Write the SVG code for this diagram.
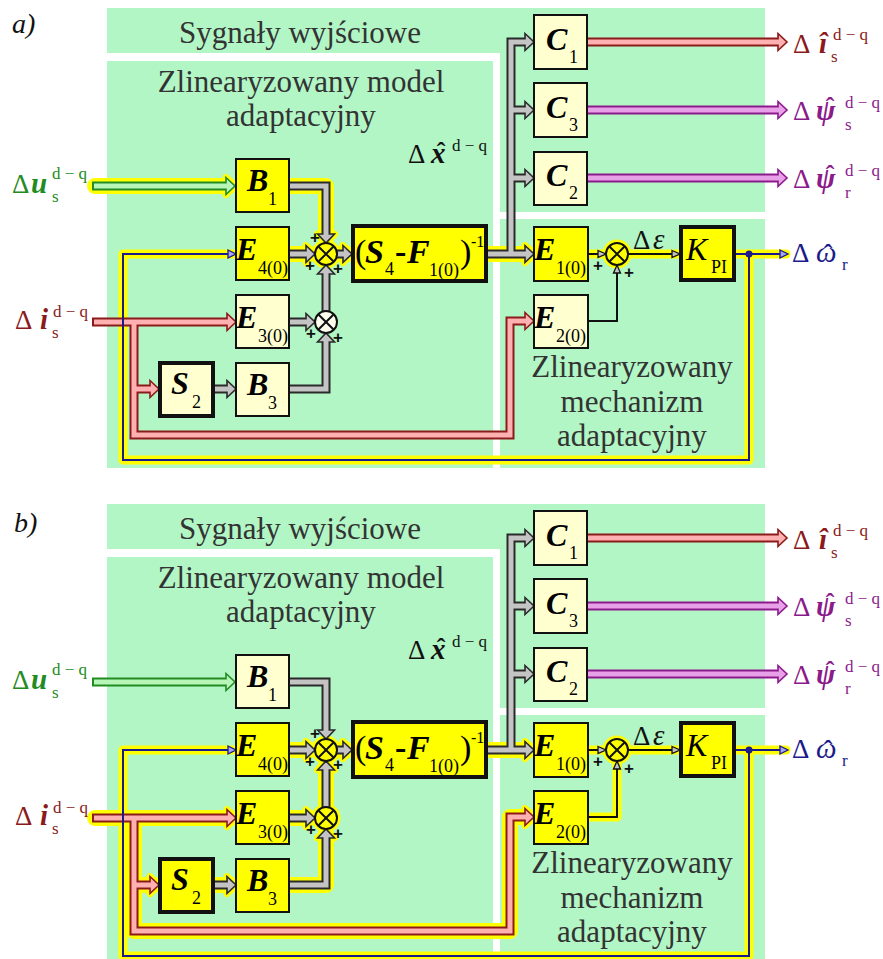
<svg xmlns="http://www.w3.org/2000/svg" width="883" height="959" viewBox="0 0 883 959">
<style>
.bg{fill:#b2f6c6}
.ttl{font-family:"Liberation Serif",serif;font-size:31px;fill:#333;text-anchor:middle}
.lab{font-family:"Liberation Serif",serif;font-size:28px;font-style:italic;fill:#111}
.m{font-family:"Liberation Serif",serif}
.bi{font-weight:bold;font-style:italic}
.big{font-size:32px}
.sub{font-size:18px}
.hat{font-family:"Liberation Serif",serif;font-size:26px;text-anchor:middle;font-weight:bold}
.glow{fill:none;stroke:#ffff00;stroke-width:16;stroke-linecap:round;stroke-linejoin:round}
.glowt{fill:none;stroke:#ffff00;stroke-width:9;stroke-linecap:round;stroke-linejoin:round}
.glowh{fill:#ffff00;stroke:#ffff00;stroke-width:7;stroke-linejoin:round}
.glowc{fill:#ffff00}
.o{fill:none;stroke-width:9;stroke-linejoin:miter}
.i{fill:none;stroke-width:5;stroke-linejoin:miter}
.h{stroke-width:1.6;stroke-linejoin:miter}
.gray .o,.gray .h{stroke:#2a2a2a}.gray .i{stroke:#c4c4c4}.gray .h{fill:#c4c4c4}
.pink .o,.pink .h{stroke:#8b1a1a}.pink .i{stroke:#ffb0b0}.pink .h{fill:#ffb0b0}
.grn .o,.grn .h{stroke:#228b22}.grn .i{stroke:#b8f5b8}.grn .h{fill:#b8f5b8}
.pur .o,.pur .h{stroke:#8b1a8b}.pur .i{stroke:#e8a0e8}.pur .h{fill:#e8a0e8}
.nav{fill:none;stroke:#1a1a8b;stroke-width:2}
.navh{fill:#a8a8f0;stroke:#1a1a8b;stroke-width:1.3}
.blk{fill:none;stroke:#111;stroke-width:2}
.blkh{fill:#c4c4c4;stroke:#111;stroke-width:1.3}
.bx{stroke:#111;stroke-width:2}
.thk{stroke:#111;stroke-width:4}
.y{fill:#ffff00}
.c{fill:#ffffd0}
.sx{stroke:#111;stroke-width:2}
.plus{font-family:"Liberation Sans",sans-serif;font-weight:bold;font-size:17px;fill:#111;text-anchor:middle}
</style>
<rect width="883" height="959" fill="#fff"/>

<text class="lab" x="12" y="33">a)</text>
<text class="lab" x="14" y="532">b)</text>

<!-- ================= PANEL A ================= -->
<g id="panelA">
<g id="bgA">
<rect class="bg" x="107" y="8" width="658" height="45"/>
<rect class="bg" x="500" y="8" width="265" height="204"/>
<rect class="bg" x="107" y="61" width="386" height="407"/>
<rect class="bg" x="500" y="219" width="265" height="249"/>
<text class="ttl" x="300" y="43">Sygnały wyjściowe</text>
<text class="ttl" x="301" y="92">Zlinearyzowany model</text>
<text class="ttl" x="301" y="126">adaptacyjny</text>
<text class="ttl" x="632" y="377">Zlinearyzowany</text>
<text class="ttl" x="632" y="412">mechanizm</text>
<text class="ttl" x="632" y="446">adaptacyjny</text>
</g>

<g id="connectorsA">
<g id="glowA">
<path class="glow" d="M95,186 H229"/><polygon class="glowh" points="226,177.5 235,186 226,194.5"/>
<path class="glow" d="M289,186 H326 V238"/><polygon class="glowh" points="317.5,234 326,243 334.5,234"/>
<path class="glow" d="M288,254 H310"/><polygon class="glowh" points="306,245.5 315,254 306,262.5"/>
<path class="glow" d="M337,254 H347"/><polygon class="glowh" points="343,245.5 352,254 343,262.5"/>
<path class="glow" d="M487,254 H529"/><polygon class="glowh" points="525,245.5 534,254 525,262.5"/>
<path class="glowt" d="M735,254 H786"/>
<path class="glowt" d="M749,254 V460 H123 V254 H233"/>
<path class="glowt" d="M588,254 H680"/>
<circle class="glowc" cx="326" cy="254" r="14.5"/>
<circle class="glowc" cx="617" cy="254" r="14.5"/>
</g>
<g class="gray">
<path class="o" d="M289,186 H326 V234"/>
<path class="o" d="M288,254 H306"/>
<path class="o" d="M337,254 H343"/>
<path class="o" d="M288,322 H306"/>
<path class="o" d="M288,389 H326 V342"/>
<path class="o" d="M326,311 V274"/>
<path class="o" d="M213,389 H227"/>
<path class="o" d="M487,254 H525"/>
<path class="o" d="M511,254 V42 H525"/>
<path class="o" d="M511,110 H525"/>
<path class="o" d="M511,178 H525"/>
<polygon class="h" points="317.5,234 326,243 334.5,234"/>
<polygon class="h" points="306,245.5 315,254 306,262.5"/>
<polygon class="h" points="343,245.5 352,254 343,262.5"/>
<polygon class="h" points="306,313.5 315,322 306,330.5"/>
<polygon class="h" points="317.5,342 326,333 334.5,342"/>
<polygon class="h" points="317.5,274 326,265 334.5,274"/>
<polygon class="h" points="227,380.5 236,389 227,397.5"/>
<polygon class="h" points="525,245.5 534,254 525,262.5"/>
<polygon class="h" points="525,33.5 534,42 525,50.5"/>
<polygon class="h" points="525,101.5 534,110 525,118.5"/>
<polygon class="h" points="525,169.5 534,178 525,186.5"/>
<path class="i" d="M289,186 H326 V235.5"/>
<path class="i" d="M288,254 H307.5"/>
<path class="i" d="M337,254 H344.5"/>
<path class="i" d="M288,322 H307.5"/>
<path class="i" d="M288,389 H326 V340.5"/>
<path class="i" d="M326,311 V272.5"/>
<path class="i" d="M213,389 H228.5"/>
<path class="i" d="M487,254 H526.5"/>
<path class="i" d="M511,254 V42 H526.5"/>
<path class="i" d="M511,110 H526.5"/>
<path class="i" d="M511,178 H526.5"/>
</g>
<g class="pink">
<path class="o" d="M92,322 H227"/>
<path class="o" d="M134,322 V435 H510 V321 H525"/>
<path class="o" d="M134,389 H150"/>
<polygon class="h" points="227,313.5 236,322 227,330.5"/>
<polygon class="h" points="525,312.5 534,321 525,329.5"/>
<polygon class="h" points="150,380.5 159,389 150,397.5"/>
<path class="i" d="M94,322 H228.5"/>
<path class="i" d="M134,322 V435 H510 V321 H526.5"/>
<path class="i" d="M134,389 H151.5"/>
</g>
<g class="grn">
<path class="o" d="M92,186 H226"/>
<polygon class="h" points="226,177.5 235,186 226,194.5"/>
<path class="i" d="M94,186 H227.5"/>
</g>
<g class="pink">
<path class="o" d="M587,42 H778"/>
<polygon class="h" points="778,33.5 787,42 778,50.5"/>
<path class="i" d="M587,42 H779.5"/>
</g>
<g class="pur">
<path class="o" d="M587,110 H778"/>
<path class="o" d="M587,178 H778"/>
<polygon class="h" points="778,101.5 787,110 778,118.5"/>
<polygon class="h" points="778,169.5 787,178 778,186.5"/>
<path class="i" d="M587,110 H779.5"/>
<path class="i" d="M587,178 H779.5"/>
</g>
<path class="nav" d="M735,254 H781"/>
<path class="nav" d="M749,254 V460 H123 V254 H229"/>
<polygon class="navh" points="780,250 788,254 780,258"/>
<polygon class="navh" points="228,250 236,254 228,258"/>
<circle cx="749" cy="254" r="3.5" fill="#1a1a8b"/>
<path class="blk" d="M588,254 H599"/>
<path class="blk" d="M628,254 H673"/>
<path class="blk" d="M588,321 H617 V272"/>
<polygon class="blkh" points="598,250.5 606,254 598,257.5"/>
<polygon class="blkh" points="672,250.5 680,254 672,257.5"/>
<polygon class="blkh" points="613.5,273 617,265 620.5,273"/>
</g>

<g id="B1a"><rect class="bx y" x="236" y="159" width="53" height="53"/><text class="m bi big" x="247" y="191">B</text><text class="m sub" x="268" y="205">1</text></g>
<g id="E4a"><rect class="bx y" x="236" y="227" width="53" height="53"/><text class="m bi big" x="236" y="260">E</text><text class="m sub" x="258" y="274">4(0)</text></g>
<g id="E3a"><rect class="bx c" x="236" y="295" width="53" height="53"/><text class="m bi big" x="236" y="328">E</text><text class="m sub" x="258" y="342">3(0)</text></g>
<g id="B3a"><rect class="bx c" x="236" y="363" width="53" height="53"/><text class="m bi big" x="247" y="395">B</text><text class="m sub" x="268" y="409">3</text></g>
<g id="S2a"><rect class="thk c" x="160" y="363" width="53" height="53"/><text class="m bi big" x="171" y="394">S</text><text class="m sub" x="192" y="408">2</text></g>
<g id="sum1a"><circle class="sx y" cx="326" cy="254" r="11"/><path class="sx" d="M318.2,246.2 L333.8,261.8 M333.8,246.2 L318.2,261.8"/>
<text class="plus" x="315" y="243">+</text><text class="plus" x="310" y="271">+</text><text class="plus" x="338" y="274">+</text></g>
<g id="sum2a"><circle class="sx" fill="#fffff0" cx="326" cy="322" r="11"/><path class="sx" d="M318.2,314.2 L333.8,329.8 M333.8,314.2 L318.2,329.8"/>
<text class="plus" x="311" y="339">+</text><text class="plus" x="338" y="343">+</text></g>
<g id="Blocka"><rect class="thk y" x="353" y="226" width="133" height="55"/>
<text class="m" font-size="34" x="355" y="263">(</text><text class="m bi" font-size="34" x="365" y="263">S</text><text class="m" font-size="18" x="385" y="275">4</text><text class="m" font-weight="bold" font-size="34" x="395" y="263">-</text><text class="m bi" font-size="34" x="407" y="263">F</text><text class="m" font-size="18" x="429" y="276">1(0)</text><text class="m" font-size="34" x="460" y="263">)</text><text class="m" font-size="16" x="471" y="247">-1</text></g>
<g id="C1a"><rect class="bx c" x="534" y="15" width="53" height="54"/><text class="m bi big" x="546" y="50">C</text><text class="m sub" x="569" y="63">1</text></g>
<g id="C3a"><rect class="bx c" x="534" y="83" width="53" height="54"/><text class="m bi big" x="546" y="118">C</text><text class="m sub" x="569" y="131">3</text></g>
<g id="C2a"><rect class="bx c" x="534" y="152" width="53" height="53"/><text class="m bi big" x="546" y="186">C</text><text class="m sub" x="569" y="199">2</text></g>
<g id="E1a"><rect class="bx y" x="534" y="227" width="54" height="54"/><text class="m bi big" x="534" y="260">E</text><text class="m sub" x="556" y="274">1(0)</text></g>
<g id="E2a"><rect class="bx c" x="534" y="295" width="54" height="53"/><text class="m bi big" x="534" y="328">E</text><text class="m sub" x="556" y="342">2(0)</text></g>
<g id="sum3a"><circle class="sx y" cx="617" cy="254" r="11"/><path class="sx" d="M609.2,246.2 L624.8,261.8 M624.8,246.2 L609.2,261.8"/>
<text class="plus" x="598" y="271">+</text><text class="plus" x="629" y="278">+</text></g>
<g id="KPIa"><rect class="thk y" x="681" y="227" width="53" height="53"/><text class="m" font-style="italic" font-size="32" x="686" y="260">K</text><text class="m sub" x="711" y="273">PI</text></g>

<g id="labelsA">
<text class="m" fill="#228b22" font-size="27" x="12" y="193">Δ<tspan class="bi" font-size="29" x="31">u</tspan><tspan font-size="17" x="52" y="202">s</tspan><tspan font-size="17" x="52" y="179">d − q</tspan></text>
<text class="m" fill="#8b1a1a" font-size="27" x="15" y="329">Δ<tspan class="bi" font-size="29" x="40">i</tspan><tspan font-size="17" x="52" y="338">s</tspan><tspan font-size="17" x="53" y="317">d − q</tspan></text>
<text class="m" fill="#111" font-size="27" x="408" y="163">Δ<tspan class="bi" font-size="29" x="431">x</tspan><tspan font-size="17" x="452" y="151">d − q</tspan></text>
<text class="hat" fill="#111" x="441" y="160">ˆ</text>
<text class="m" fill="#111" font-size="27" x="633" y="249">Δ<tspan font-style="italic" font-size="29" x="653">ε</tspan></text>
<text class="m" fill="#1a1a8b" font-size="27" x="792" y="262">Δ<tspan font-style="italic" font-size="29" x="816">ω</tspan><tspan font-size="17" x="842" y="270">r</tspan></text>
<text class="hat" fill="#1a1a8b" x="828" y="262">ˆ</text>
<text class="m" fill="#8b1a1a" font-size="27" x="793" y="53">Δ<tspan class="bi" font-size="29" x="819">î</tspan><tspan font-size="17" x="831" y="62">s</tspan><tspan font-size="17" x="833" y="40">d − q</tspan></text>
<text class="m" fill="#8b1a8b" font-size="27" x="793" y="120">Δ<tspan class="bi" font-size="29" x="816">ψ</tspan><tspan font-size="17" x="845" y="130">s</tspan><tspan font-size="17" x="845" y="108">d − q</tspan></text>
<text class="hat" fill="#8b1a8b" x="830" y="115">ˆ</text>
<text class="m" fill="#8b1a8b" font-size="27" x="793" y="188">Δ<tspan class="bi" font-size="29" x="816">ψ</tspan><tspan font-size="17" x="845" y="198">r</tspan><tspan font-size="17" x="845" y="176">d − q</tspan></text>
<text class="hat" fill="#8b1a8b" x="830" y="183">ˆ</text>
</g>
</g>

<!-- ================= PANEL B ================= -->
<g id="panelB" transform="translate(0,496)">
<g id="bgB">
<rect class="bg" x="107" y="8" width="658" height="45"/>
<rect class="bg" x="500" y="8" width="265" height="204"/>
<rect class="bg" x="107" y="61" width="386" height="407"/>
<rect class="bg" x="500" y="219" width="265" height="249"/>
<text class="ttl" x="300" y="43">Sygnały wyjściowe</text>
<text class="ttl" x="301" y="92">Zlinearyzowany model</text>
<text class="ttl" x="301" y="126">adaptacyjny</text>
<text class="ttl" x="632" y="377">Zlinearyzowany</text>
<text class="ttl" x="632" y="412">mechanizm</text>
<text class="ttl" x="632" y="446">adaptacyjny</text>
</g>

<g id="connectorsB">
<g id="glowB">
<path class="glow" d="M288,254 H310"/><polygon class="glowh" points="306,245.5 315,254 306,262.5"/>
<path class="glow" d="M337,254 H347"/><polygon class="glowh" points="343,245.5 352,254 343,262.5"/>
<path class="glow" d="M288,322 H310"/><polygon class="glowh" points="306,313.5 315,322 306,330.5"/>
<path class="glow" d="M288,389 H326 V338"/><polygon class="glowh" points="317.5,342 326,333 334.5,342"/>
<path class="glow" d="M326,311 V270"/><polygon class="glowh" points="317.5,274 326,265 334.5,274"/>
<path class="glow" d="M213,389 H231"/><polygon class="glowh" points="227,380.5 236,389 227,397.5"/>
<path class="glow" d="M487,254 H529"/><polygon class="glowh" points="525,245.5 534,254 525,262.5"/>
<path class="glow" d="M95,322 H231"/><polygon class="glowh" points="227,313.5 236,322 227,330.5"/>
<path class="glow" d="M134,322 V435 H510 V321 H529"/><polygon class="glowh" points="525,312.5 534,321 525,329.5"/>
<path class="glow" d="M134,389 H154"/><polygon class="glowh" points="150,380.5 159,389 150,397.5"/>
<path class="glowt" d="M735,254 H786"/>
<path class="glowt" d="M749,254 V460 H123 V254 H233"/>
<path class="glowt" d="M588,254 H680"/>
<path class="glowt" d="M588,321 H617 V266"/>
<circle class="glowc" cx="326" cy="254" r="14.5"/>
<circle class="glowc" cx="326" cy="322" r="14.5"/>
<circle class="glowc" cx="617" cy="254" r="14.5"/>
</g>
<g class="gray">
<path class="o" d="M289,186 H326 V234"/>
<path class="o" d="M288,254 H306"/>
<path class="o" d="M337,254 H343"/>
<path class="o" d="M288,322 H306"/>
<path class="o" d="M288,389 H326 V342"/>
<path class="o" d="M326,311 V274"/>
<path class="o" d="M213,389 H227"/>
<path class="o" d="M487,254 H525"/>
<path class="o" d="M511,254 V42 H525"/>
<path class="o" d="M511,110 H525"/>
<path class="o" d="M511,178 H525"/>
<polygon class="h" points="317.5,234 326,243 334.5,234"/>
<polygon class="h" points="306,245.5 315,254 306,262.5"/>
<polygon class="h" points="343,245.5 352,254 343,262.5"/>
<polygon class="h" points="306,313.5 315,322 306,330.5"/>
<polygon class="h" points="317.5,342 326,333 334.5,342"/>
<polygon class="h" points="317.5,274 326,265 334.5,274"/>
<polygon class="h" points="227,380.5 236,389 227,397.5"/>
<polygon class="h" points="525,245.5 534,254 525,262.5"/>
<polygon class="h" points="525,33.5 534,42 525,50.5"/>
<polygon class="h" points="525,101.5 534,110 525,118.5"/>
<polygon class="h" points="525,169.5 534,178 525,186.5"/>
<path class="i" d="M289,186 H326 V235.5"/>
<path class="i" d="M288,254 H307.5"/>
<path class="i" d="M337,254 H344.5"/>
<path class="i" d="M288,322 H307.5"/>
<path class="i" d="M288,389 H326 V340.5"/>
<path class="i" d="M326,311 V272.5"/>
<path class="i" d="M213,389 H228.5"/>
<path class="i" d="M487,254 H526.5"/>
<path class="i" d="M511,254 V42 H526.5"/>
<path class="i" d="M511,110 H526.5"/>
<path class="i" d="M511,178 H526.5"/>
</g>
<g class="pink">
<path class="o" d="M92,322 H227"/>
<path class="o" d="M134,322 V435 H510 V321 H525"/>
<path class="o" d="M134,389 H150"/>
<polygon class="h" points="227,313.5 236,322 227,330.5"/>
<polygon class="h" points="525,312.5 534,321 525,329.5"/>
<polygon class="h" points="150,380.5 159,389 150,397.5"/>
<path class="i" d="M94,322 H228.5"/>
<path class="i" d="M134,322 V435 H510 V321 H526.5"/>
<path class="i" d="M134,389 H151.5"/>
</g>
<g class="grn">
<path class="o" d="M92,186 H226"/>
<polygon class="h" points="226,177.5 235,186 226,194.5"/>
<path class="i" d="M94,186 H227.5"/>
</g>
<g class="pink">
<path class="o" d="M587,42 H778"/>
<polygon class="h" points="778,33.5 787,42 778,50.5"/>
<path class="i" d="M587,42 H779.5"/>
</g>
<g class="pur">
<path class="o" d="M587,110 H778"/>
<path class="o" d="M587,178 H778"/>
<polygon class="h" points="778,101.5 787,110 778,118.5"/>
<polygon class="h" points="778,169.5 787,178 778,186.5"/>
<path class="i" d="M587,110 H779.5"/>
<path class="i" d="M587,178 H779.5"/>
</g>
<path class="nav" d="M735,254 H781"/>
<path class="nav" d="M749,254 V460 H123 V254 H229"/>
<polygon class="navh" points="780,250 788,254 780,258"/>
<polygon class="navh" points="228,250 236,254 228,258"/>
<circle cx="749" cy="254" r="3.5" fill="#1a1a8b"/>
<path class="blk" d="M588,254 H599"/>
<path class="blk" d="M628,254 H673"/>
<path class="blk" d="M588,321 H617 V272"/>
<polygon class="blkh" points="598,250.5 606,254 598,257.5"/>
<polygon class="blkh" points="672,250.5 680,254 672,257.5"/>
<polygon class="blkh" points="613.5,273 617,265 620.5,273"/>
</g>

<g id="B1b"><rect class="bx c" x="236" y="159" width="53" height="53"/><text class="m bi big" x="247" y="191">B</text><text class="m sub" x="268" y="205">1</text></g>
<g id="E4b"><rect class="bx y" x="236" y="227" width="53" height="53"/><text class="m bi big" x="236" y="260">E</text><text class="m sub" x="258" y="274">4(0)</text></g>
<g id="E3b"><rect class="bx y" x="236" y="295" width="53" height="53"/><text class="m bi big" x="236" y="328">E</text><text class="m sub" x="258" y="342">3(0)</text></g>
<g id="B3b"><rect class="bx y" x="236" y="363" width="53" height="53"/><text class="m bi big" x="247" y="395">B</text><text class="m sub" x="268" y="409">3</text></g>
<g id="S2b"><rect class="thk y" x="160" y="363" width="53" height="53"/><text class="m bi big" x="171" y="394">S</text><text class="m sub" x="192" y="408">2</text></g>
<g id="sum1b"><circle class="sx y" cx="326" cy="254" r="11"/><path class="sx" d="M318.2,246.2 L333.8,261.8 M333.8,246.2 L318.2,261.8"/>
<text class="plus" x="315" y="243">+</text><text class="plus" x="310" y="271">+</text><text class="plus" x="338" y="274">+</text></g>
<g id="sum2b"><circle class="sx y" cx="326" cy="322" r="11"/><path class="sx" d="M318.2,314.2 L333.8,329.8 M333.8,314.2 L318.2,329.8"/>
<text class="plus" x="311" y="339">+</text><text class="plus" x="338" y="343">+</text></g>
<g id="Blockb"><rect class="thk y" x="353" y="226" width="133" height="55"/>
<text class="m" font-size="34" x="355" y="263">(</text><text class="m bi" font-size="34" x="365" y="263">S</text><text class="m" font-size="18" x="385" y="275">4</text><text class="m" font-weight="bold" font-size="34" x="395" y="263">-</text><text class="m bi" font-size="34" x="407" y="263">F</text><text class="m" font-size="18" x="429" y="276">1(0)</text><text class="m" font-size="34" x="460" y="263">)</text><text class="m" font-size="16" x="471" y="247">-1</text></g>
<g id="C1b"><rect class="bx c" x="534" y="15" width="53" height="54"/><text class="m bi big" x="546" y="50">C</text><text class="m sub" x="569" y="63">1</text></g>
<g id="C3b"><rect class="bx c" x="534" y="83" width="53" height="54"/><text class="m bi big" x="546" y="118">C</text><text class="m sub" x="569" y="131">3</text></g>
<g id="C2b"><rect class="bx c" x="534" y="152" width="53" height="53"/><text class="m bi big" x="546" y="186">C</text><text class="m sub" x="569" y="199">2</text></g>
<g id="E1b"><rect class="bx y" x="534" y="227" width="54" height="54"/><text class="m bi big" x="534" y="260">E</text><text class="m sub" x="556" y="274">1(0)</text></g>
<g id="E2b"><rect class="bx y" x="534" y="295" width="54" height="53"/><text class="m bi big" x="534" y="328">E</text><text class="m sub" x="556" y="342">2(0)</text></g>
<g id="sum3b"><circle class="sx y" cx="617" cy="254" r="11"/><path class="sx" d="M609.2,246.2 L624.8,261.8 M624.8,246.2 L609.2,261.8"/>
<text class="plus" x="598" y="271">+</text><text class="plus" x="629" y="278">+</text></g>
<g id="KPIb"><rect class="thk y" x="681" y="227" width="53" height="53"/><text class="m" font-style="italic" font-size="32" x="686" y="260">K</text><text class="m sub" x="711" y="273">PI</text></g>

<g id="labelsB">
<text class="m" fill="#228b22" font-size="27" x="12" y="193">Δ<tspan class="bi" font-size="29" x="31">u</tspan><tspan font-size="17" x="52" y="202">s</tspan><tspan font-size="17" x="52" y="179">d − q</tspan></text>
<text class="m" fill="#8b1a1a" font-size="27" x="15" y="329">Δ<tspan class="bi" font-size="29" x="40">i</tspan><tspan font-size="17" x="52" y="338">s</tspan><tspan font-size="17" x="53" y="317">d − q</tspan></text>
<text class="m" fill="#111" font-size="27" x="408" y="163">Δ<tspan class="bi" font-size="29" x="431">x</tspan><tspan font-size="17" x="452" y="151">d − q</tspan></text>
<text class="hat" fill="#111" x="441" y="160">ˆ</text>
<text class="m" fill="#111" font-size="27" x="633" y="249">Δ<tspan font-style="italic" font-size="29" x="653">ε</tspan></text>
<text class="m" fill="#1a1a8b" font-size="27" x="792" y="262">Δ<tspan font-style="italic" font-size="29" x="816">ω</tspan><tspan font-size="17" x="842" y="270">r</tspan></text>
<text class="hat" fill="#1a1a8b" x="828" y="262">ˆ</text>
<text class="m" fill="#8b1a1a" font-size="27" x="793" y="53">Δ<tspan class="bi" font-size="29" x="819">î</tspan><tspan font-size="17" x="831" y="62">s</tspan><tspan font-size="17" x="833" y="40">d − q</tspan></text>
<text class="m" fill="#8b1a8b" font-size="27" x="793" y="120">Δ<tspan class="bi" font-size="29" x="816">ψ</tspan><tspan font-size="17" x="845" y="130">s</tspan><tspan font-size="17" x="845" y="108">d − q</tspan></text>
<text class="hat" fill="#8b1a8b" x="830" y="115">ˆ</text>
<text class="m" fill="#8b1a8b" font-size="27" x="793" y="188">Δ<tspan class="bi" font-size="29" x="816">ψ</tspan><tspan font-size="17" x="845" y="198">r</tspan><tspan font-size="17" x="845" y="176">d − q</tspan></text>
<text class="hat" fill="#8b1a8b" x="830" y="183">ˆ</text>
</g>
</g>
</svg>
